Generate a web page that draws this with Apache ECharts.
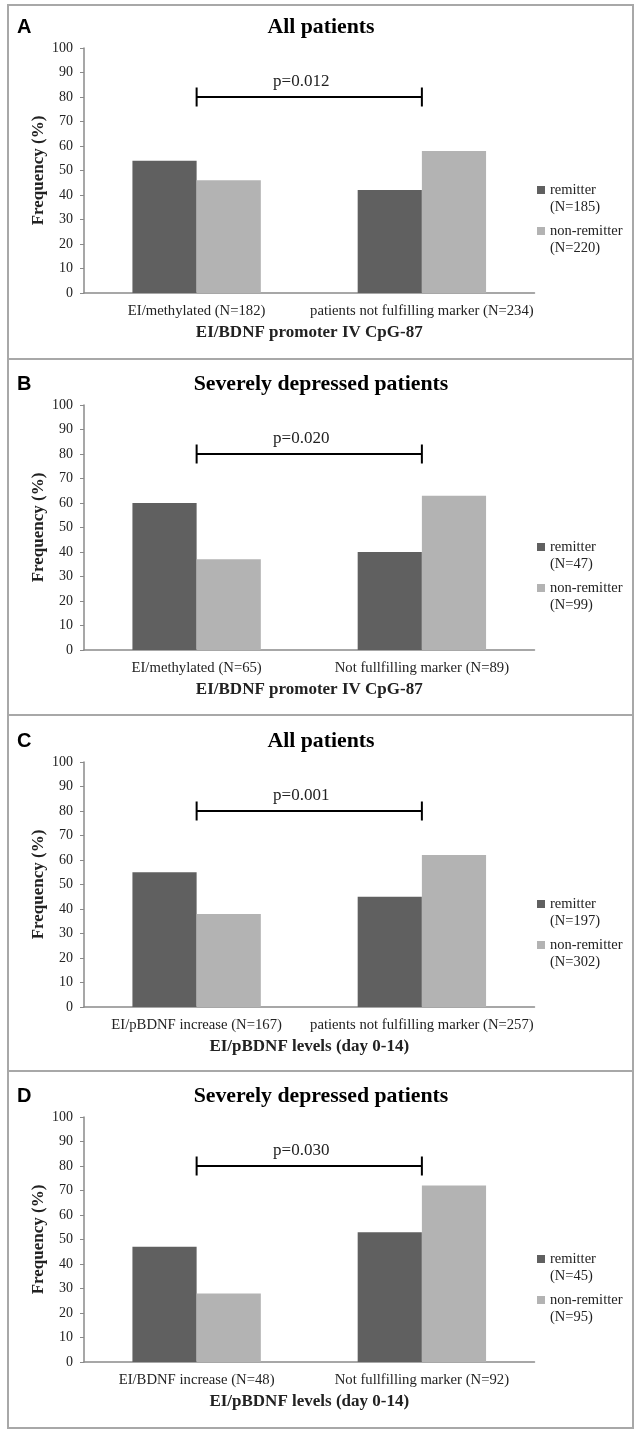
<!DOCTYPE html>
<html>
<head>
<meta charset="utf-8">
<script src="https://cdn.jsdelivr.net/npm/echarts@6/dist/echarts.min.js"></script>
<style>
  html, body { margin: 0; padding: 0; background: #fff; }
  #page { position: relative; width: 638px; height: 1433px; overflow: hidden; }
  .chart { position: absolute; left: 0; width: 638px; }
  .frame { position: absolute; left: 7px; width: 627px; border: 2px solid #a8a8a8; box-sizing: border-box; pointer-events: none; }
  .divider { position: absolute; left: 7px; width: 627px; height: 2px; background: #a8a8a8; pointer-events: none; }
</style>
</head>
<body>
<div id="page">
  <div class="chart" id="panel0" style="top:2px;height:356px;"></div>
  <div class="chart" id="panel1" style="top:359px;height:355px;"></div>
  <div class="chart" id="panel2" style="top:716px;height:354px;"></div>
  <div class="chart" id="panel3" style="top:1071px;height:357px;"></div>
  <div class="frame" style="top:4px;height:1425px;"></div>
  <div class="divider" style="top:358px;"></div>
  <div class="divider" style="top:714px;"></div>
  <div class="divider" style="top:1070px;"></div>
</div>
<script>
// data, one entry per panel (A-D)
const panelLetters = ["A", "B", "C", "D"];
const panelTitles = ["All patients", "Severely depressed patients", "All patients", "Severely depressed patients"];
const categories = [
  ["EI/methylated (N=182)", "patients not fulfilling marker (N=234)"],
  ["EI/methylated (N=65)", "Not fullfilling marker (N=89)"],
  ["EI/pBDNF increase (N=167)", "patients not fulfilling marker (N=257)"],
  ["EI/BDNF increase (N=48)", "Not fullfilling marker (N=92)"]
];
const xAxisNames = ["EI/BDNF promoter IV CpG-87", "EI/BDNF promoter IV CpG-87", "EI/pBDNF levels (day 0-14)", "EI/pBDNF levels (day 0-14)"];
const remitterValues = [[54, 42], [60, 40], [55, 45], [47, 53]];
const nonRemitterValues = [[46, 58], [37, 63], [38, 62], [28, 72]];
const remitterN = [185, 47, 197, 45];
const nonRemitterN = [220, 99, 302, 95];
const pValues = ["p=0.012", "p=0.020", "p=0.001", "p=0.030"];
const bracketLevel = 80;
const yMin = 0, yMax = 100, yStep = 10;

const serif = "Liberation Serif";
const darkGray = "#606060";
const lightGray = "#b3b3b3";
const axisGray = "#8a8a8a";

function drawPanel(i) {
  const chart = echarts.init(document.getElementById("panel" + i));
  chart.setOption({
    animation: false,
    graphic: [
      {
        type: "text", x: 17, y: 25,
        style: { text: panelLetters[i], font: "bold 20px 'Liberation Sans'", fill: "#000", align: "left", verticalAlign: "middle" }
      },
      {
        type: "text", x: 321, y: 25,
        style: { text: panelTitles[i], font: "bold 21.8px '" + serif + "'", fill: "#000", align: "center", verticalAlign: "middle" }
      }
    ],
    legend: {
      data: ["remitter", "non-remitter"],
      orient: "vertical",
      left: 537,
      top: 162.5,
      padding: 0,
      itemWidth: 8,
      itemHeight: 8,
      itemGap: -10,
      icon: "rect",
      selectedMode: false,
      // blank first line so the square sits beside the name, not between the two lines
      formatter: name => name === "remitter"
        ? " \nremitter\n(N=" + remitterN[i] + ")"
        : " \nnon-remitter\n(N=" + nonRemitterN[i] + ")",
      textStyle: { fontFamily: serif, fontSize: 14.5, color: "#222", lineHeight: 17 }
    },
    grid: { left: 84, right: 103.5, top: 46, height: 245 },
    xAxis: {
      type: "category",
      data: categories[i],
      axisLine: { lineStyle: { color: axisGray, width: 1.5 } },
      axisTick: { show: false },
      axisLabel: { interval: 0, margin: 11, fontFamily: serif, fontSize: 14.7, color: "#222" },
      name: xAxisNames[i],
      nameLocation: "middle",
      nameGap: 31,
      nameTextStyle: { fontFamily: serif, fontSize: 17, fontWeight: "bold", color: "#222" }
    },
    yAxis: {
      type: "value",
      min: yMin,
      max: yMax,
      interval: yStep,
      axisLine: { show: true, lineStyle: { color: axisGray, width: 1.5 } },
      axisTick: { show: true, length: 4, lineStyle: { color: axisGray } },
      splitLine: { show: false },
      axisLabel: { margin: 11, fontFamily: serif, fontSize: 14, color: "#222" },
      name: "Frequency (%)",
      nameLocation: "middle",
      nameGap: 37,
      nameMoveOverlap: false,
      nameTextStyle: { fontFamily: serif, fontSize: 17, fontWeight: "bold", color: "#222" }
    },
    series: [
      {
        name: "remitter",
        type: "bar",
        data: remitterValues[i],
        barGap: 0,
        barCategoryGap: "43%",
        itemStyle: { color: darkGray }
      },
      {
        name: "non-remitter",
        type: "bar",
        data: nonRemitterValues[i],
        itemStyle: { color: lightGray }
      },
      {
        // significance bracket between the two category centres
        type: "custom",
        silent: true,
        z: 5,
        data: [[0, bracketLevel, 1]],
        encode: { x: 0, y: 1 },
        renderItem: (params, api) => {
          const a = api.coord([api.value(0), api.value(1)]);
          const b = api.coord([api.value(2), api.value(1)]);
          const line = { stroke: "#000", lineWidth: 2 };
          return {
            type: "group",
            children: [
              { type: "line", shape: { x1: a[0], y1: a[1], x2: b[0], y2: b[1] }, style: line },
              { type: "line", shape: { x1: a[0], y1: a[1] - 9.5, x2: a[0], y2: a[1] + 9.5 }, style: line },
              { type: "line", shape: { x1: b[0], y1: b[1] - 9.5, x2: b[0], y2: b[1] + 9.5 }, style: line },
              {
                type: "text", x: (a[0] + b[0]) / 2 - 8, y: a[1] - 15.5,
                style: { text: pValues[i], font: "17px '" + serif + "'", fill: "#222", align: "center", verticalAlign: "middle" }
              }
            ]
          };
        }
      }
    ]
  });
}

for (let i = 0; i < 4; i++) drawPanel(i);
</script>
</body>
</html>
